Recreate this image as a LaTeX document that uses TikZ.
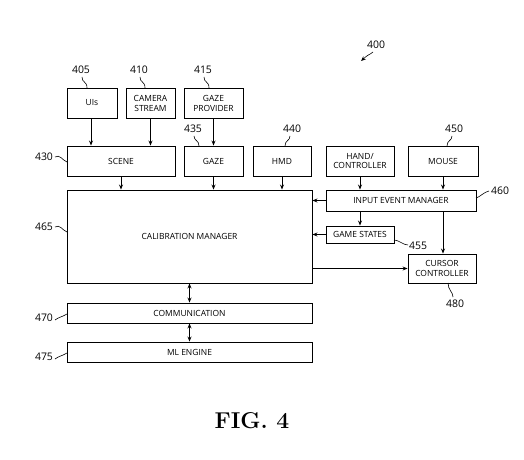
\documentclass[tikz,border=0pt]{standalone}
\usepackage{fontspec}
\setmainfont{Open Sans}
\newfontfamily\figfont{Latin Modern Roman}
\usetikzlibrary{arrows.meta}
\begin{document}
\begin{tikzpicture}[x=1bp,y=-1bp,
  box/.style={draw,line width=0.9pt,inner sep=0pt,align=center,font=\fontsize{8.5}{10}\selectfont},
  arr/.style={line width=0.8pt,-{Stealth[length=5pt,width=4pt]}},
  barr/.style={line width=0.8pt,{Stealth[length=5pt,width=4pt]}-{Stealth[length=5pt,width=4pt]}},
  num/.style={inner sep=0pt,font=\fontsize{10.5}{12}\selectfont},
  lead/.style={line width=0.6pt}]
\useasboundingbox (0,0) rectangle (524,460);
% boxes
\node[box,minimum width=50bp,minimum height=30bp] (uis) at (92,103) {UIs};
\node[box,minimum width=49bp,minimum height=30bp] (cam) at (150.5,103) {CAMERA\\STREAM};
\node[box,minimum width=59bp,minimum height=30bp] (gp) at (213.5,103) {GAZE\\PROVIDER};
\node[box,minimum width=108bp,minimum height=30bp] (scene) at (121,161) {SCENE};
\node[box,minimum width=59bp,minimum height=30bp] (gaze) at (213.5,161) {GAZE};
\node[box,minimum width=58bp,minimum height=30bp] (hmd) at (282,161) {HMD};
\node[box,minimum width=68bp,minimum height=30bp] (hand) at (360,161) {HAND/\\CONTROLLER};
\node[box,minimum width=70bp,minimum height=30bp] (mouse) at (443,161) {MOUSE};
\node[box,minimum width=245bp,minimum height=93bp] (cal) at (189.5,236.5) {CALIBRATION MANAGER};
\node[box,minimum width=245bp,minimum height=20bp] (comm) at (189.5,313) {COMMUNICATION};
\node[box,minimum width=245bp,minimum height=20bp] (ml) at (189.5,352) {ML ENGINE};
\node[box,minimum width=150bp,minimum height=21bp] (iem) at (401,200.5) {INPUT EVENT MANAGER};
\node[box,minimum width=68bp,minimum height=17bp] (gs) at (360,234.5) {GAME STATES};
\node[box,minimum width=68bp,minimum height=29bp] (cc) at (442,268.5) {CURSOR\\CONTROLLER};
% arrows
\draw[arr] ([xshift=-1bp]uis.south) -- ([xshift=-1bp]uis.south |- scene.north);
\draw[arr] (cam.south) -- (cam.south |- scene.north);
\draw[arr] (gp.south) -- (gaze.north);
\draw[arr] (scene.south) -- (scene.south |- cal.north);
\draw[arr] (gaze.south) -- (gaze.south |- cal.north);
\draw[arr] (hmd.south) -- (hmd.south |- cal.north);
\draw[arr] (hand.south) -- (hand.south |- iem.north);
\draw[arr] (mouse.south) -- (mouse.south |- iem.north);
\draw[arr] (iem.west) -- (iem.west -| cal.east);
\draw[arr] (gs.west) -- (gs.west -| cal.east);
\draw[arr] (gs.north |- iem.south) -- (gs.north);
\draw[arr] ([xshift=1bp]cc.north |- iem.south) -- ([xshift=1bp]cc.north);
\draw[arr] (cal.east |- cc.west) -- (cc.west);
\draw[barr] (cal.south) -- (comm.north);
\draw[barr] (comm.south) -- (ml.north);
% labels
\node[num] (l400) at (376,45) {400};
\node[num] (l405) at (81,70) {405};
\node[num] (l410) at (139,70) {410};
\node[num] (l415) at (203,70) {415};
\node[num] (l435) at (193,129) {435};
\node[num] (l440) at (292,129) {440};
\node[num] (l450) at (454,129) {450};
\node[num] (l430) at (44,157) {430};
\node[num] (l465) at (44,227) {465};
\node[num] (l470) at (44,318) {470};
\node[num] (l475) at (44,357) {475};
\node[num] (l460) at (500,191) {460};
\node[num] (l455) at (418,246) {455};
\node[num] (l480) at (455,304) {480};
% leaders
\draw[lead,-{Stealth[length=5pt,width=4pt]}] (373,52) .. controls (368,56) and (370,53) .. (361,61);
\draw[lead] (82,77) .. controls (82,83) and (87,81) .. (87,88);
\draw[lead] (140,77) .. controls (140,83) and (145,81) .. (145,88);
\draw[lead] (204,77) .. controls (204,83) and (209,81) .. (209,88);
\draw[lead] (194,136) .. controls (194,141) and (199,140) .. (199,146);
\draw[lead] (290,136) .. controls (290,141) and (285,140) .. (285,146);
\draw[lead] (452,136) .. controls (452,141) and (447,140) .. (447,146);
\draw[lead] (55,157) .. controls (60,154) and (62,160) .. (67,162);
\draw[lead] (55,227) .. controls (60,224) and (62,230) .. (67,232);
\draw[lead] (55,320) .. controls (59,317) and (62,317) .. (67,314);
\draw[lead] (55,359) .. controls (59,356) and (62,356) .. (67,353);
\draw[lead] (489,191) .. controls (484,192) and (480,197) .. (476,198);
\draw[lead] (408,245) .. controls (403,245) and (399,240) .. (394,240);
\draw[lead] (453,297) .. controls (453,292) and (448,290) .. (448,283);
% figure caption
\node[inner sep=0pt,font=\figfont\fontsize{23}{26}\selectfont\bfseries] (fig) at (252,421) {FIG.\ 4};
\end{tikzpicture}
\end{document}
